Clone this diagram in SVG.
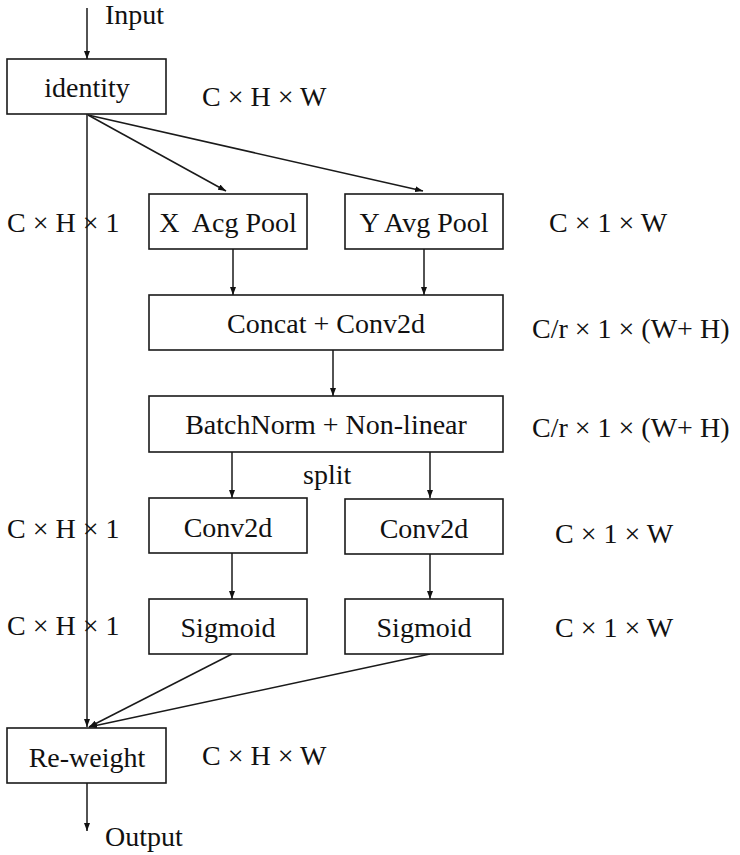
<svg xmlns="http://www.w3.org/2000/svg" width="740" height="855" viewBox="0 0 740 855">
<defs>
<marker id="ah" viewBox="0 0 8 6" refX="8" refY="3" markerWidth="8" markerHeight="6" markerUnits="userSpaceOnUse" orient="auto">
<path d="M0,0 L8,3 L0,6 Z" fill="#111"/>
</marker>
<style>
.box{fill:#fff;stroke:#1a1a1a;stroke-width:1.6}
.t{font-family:"Liberation Serif","Times New Roman",serif;font-size:28px;fill:#111}
.c{text-anchor:middle}
.ln{stroke:#1a1a1a;stroke-width:1.5;fill:none}
.ar{stroke:#1a1a1a;stroke-width:1.5;fill:none;marker-end:url(#ah)}
</style>
</defs>
<rect width="740" height="855" fill="#fff"/>
<g id="connectors">
<line class="ar" x1="87" y1="8" x2="87" y2="59"/>
<line class="ar" x1="88" y1="115" x2="226" y2="191"/>
<line class="ar" x1="88" y1="115" x2="423" y2="191"/>
<line class="ar" x1="233" y1="249" x2="233" y2="295"/>
<line class="ar" x1="424" y1="249" x2="424" y2="295"/>
<line class="ar" x1="333" y1="350" x2="333" y2="396"/>
<line class="ar" x1="232" y1="452" x2="232" y2="498"/>
<line class="ar" x1="430" y1="452" x2="430" y2="498"/>
<line class="ar" x1="232" y1="553" x2="232" y2="599"/>
<line class="ar" x1="430" y1="554" x2="430" y2="599"/>
<line class="ar" x1="87" y1="114" x2="87" y2="727"/>
<line class="ar" x1="232" y1="654" x2="89" y2="727"/>
<line class="ar" x1="430" y1="654" x2="89" y2="727"/>
<line class="ar" x1="87" y1="783" x2="87" y2="831"/>
</g>
<g id="identity">
<rect class="box" x="7" y="59" width="159" height="55"/>
<text class="t c" x="87" y="97">identity</text>
</g>
<g id="xpool">
<rect class="box" x="149" y="194" width="158" height="55"/>
<text class="t c" x="228" y="232" xml:space="preserve">X  Acg Pool</text>
</g>
<g id="ypool">
<rect class="box" x="345" y="194" width="158" height="55"/>
<text class="t c" x="424" y="232">Y Avg Pool</text>
</g>
<g id="concat">
<rect class="box" x="149" y="295" width="354" height="55"/>
<text class="t c" x="326" y="333">Concat + Conv2d</text>
</g>
<g id="batchnorm">
<rect class="box" x="149" y="396" width="354" height="56"/>
<text class="t c" x="326" y="434">BatchNorm + Non-linear</text>
</g>
<g id="conv2d-left">
<rect class="box" x="149" y="498" width="158" height="55"/>
<text class="t c" x="228" y="537">Conv2d</text>
</g>
<g id="conv2d-right">
<rect class="box" x="345" y="499" width="158" height="55"/>
<text class="t c" x="424" y="538">Conv2d</text>
</g>
<g id="sigmoid-left">
<rect class="box" x="149" y="599" width="158" height="55"/>
<text class="t c" x="228" y="637">Sigmoid</text>
</g>
<g id="sigmoid-right">
<rect class="box" x="345" y="599" width="158" height="55"/>
<text class="t c" x="424" y="637">Sigmoid</text>
</g>
<g id="reweight">
<rect class="box" x="7" y="728" width="159" height="55"/>
<text class="t c" x="87" y="767">Re-weight</text>
</g>
<g id="labels">
<text class="t" x="105" y="24">Input</text>
<text class="t" x="202" y="106">C × H × W</text>
<text class="t" x="7" y="232">C × H × 1</text>
<text class="t" x="549" y="232">C × 1 × W</text>
<text class="t" x="532" y="338">C/r × 1 × (W+ H)</text>
<text class="t" x="532" y="437">C/r × 1 × (W+ H)</text>
<text class="t" x="303" y="484">split</text>
<text class="t" x="7" y="538">C × H × 1</text>
<text class="t" x="555" y="543">C × 1 × W</text>
<text class="t" x="7" y="635">C × H × 1</text>
<text class="t" x="555" y="637">C × 1 × W</text>
<text class="t" x="202" y="765">C × H × W</text>
<text class="t" x="105" y="846">Output</text>
</g>
</svg>
